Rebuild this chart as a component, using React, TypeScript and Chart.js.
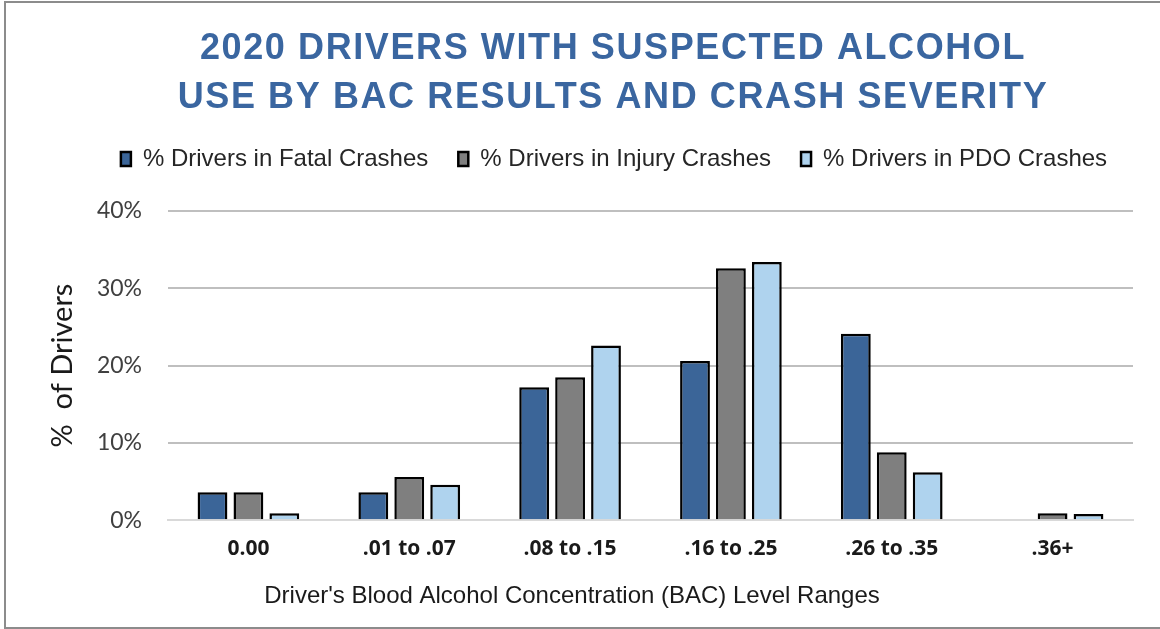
import React, { useEffect, useRef } from "react";
import { Chart, registerables } from "chart.js";

Chart.register(...registerables);

const categories = ["0.00", ".01 to .07", ".08 to .15", ".16 to .25", ".26 to .35", ".36+"];
const fatalValues = [3.6, 3.6, 17.2, 20.6, 24.1, 0];
const injuryValues = [3.6, 5.6, 18.5, 32.6, 8.8, 0.9];
const pdoValues = [0.9, 4.6, 22.6, 33.4, 6.2, 0.8];
const seriesLabels = ["% Drivers in Fatal Crashes", "% Drivers in Injury Crashes", "% Drivers in PDO Crashes"];
const titleLines = ["2020 DRIVERS WITH SUSPECTED ALCOHOL", "USE BY BAC RESULTS AND CRASH SEVERITY"];
const xAxisTitle = "Driver's Blood Alcohol Concentration (BAC) Level Ranges";
const yAxisTitle = "%  of Drivers";
const yTicks = [0, 10, 20, 30, 40];

const layoutPlugin = {
  id: "layoutTweaks",
  beforeInit(chart: any) {
    const lg = chart.legend;
    if (lg) {
      const origFit = lg.fit;
      lg.fit = function () {
        origFit.call(this);
        this.height += 30;
      };
    }
    const tb = chart.titleBlock;
    if (tb) {
      const origDraw = tb.draw;
      tb.draw = function () {
        const ctx = this.ctx;
        ctx.save();
        try {
          (ctx as any).letterSpacing = "1.6px";
        } catch (e) {}
        origDraw.call(this);
        ctx.restore();
      };
    }
  },
  afterLayout(chart: any) {
    const center = (box: any, c: number) => {
      if (!box) return;
      const w = box.right - box.left;
      box.left = c - w / 2;
      box.right = c + w / 2;
    };
    center(chart.titleBlock, 613);
    center(chart.legend, 614);
    const sub = chart.boxes.find((b: any) => b && b.options && b.options.text === xAxisTitle);
    center(sub, 572);
  },
};

export default function App() {
  const ref = useRef<HTMLCanvasElement>(null);
  useEffect(() => {
    if (!ref.current) return;
    const colors = ["#3B6598", "#7F7F7F", "#AFD3EE"];
    const chart = new Chart(ref.current, {
      type: "bar",
      data: {
        labels: categories,
        datasets: [fatalValues, injuryValues, pdoValues].map((d, i) => ({
          label: seriesLabels[i],
          data: d,
          backgroundColor: colors[i],
          borderColor: "#000000",
          borderWidth: 2.5,
          categoryPercentage: 0.67,
          barPercentage: 0.83,
        })),
      },
      plugins: [layoutPlugin],
      options: {
        animation: false,
        responsive: false,
        maintainAspectRatio: false,
        layout: { padding: { left: 40, right: 27, top: 0, bottom: 10 } },
        plugins: {
          title: {
            display: true,
            text: titleLines,
            color: "#3A66A0",
            font: { family: "Liberation Sans, Arial, sans-serif", size: 36, weight: "bold", lineHeight: 1.36 },
            padding: { top: 25, bottom: -6 },
          },
          subtitle: {
            display: true,
            position: "bottom",
            text: xAxisTitle,
            color: "#1a1a1a",
            font: { family: "Liberation Sans, Arial, sans-serif", size: 24, weight: "normal", lineHeight: 1.2 },
            padding: { top: 0, bottom: 8 },
          },
          legend: {
            display: true,
            position: "top",
            labels: {
              boxWidth: 10,
              boxHeight: 14,
              color: "#262626",
              font: { family: "Liberation Sans, Arial, sans-serif", size: 24 },
              padding: 30,
            },
          },
          tooltip: { enabled: false },
        },
        scales: {
          x: {
            grid: { display: false, drawTicks: false },
            border: { display: true, color: "#D9D9D9", width: 2 },
            afterFit: (scale: any) => {
              scale.height = 62;
            },
            ticks: {
              color: "#1a1a1a",
              font: { family: "Open Sans, Lato, sans-serif", size: 21, weight: "bold" },
              padding: 16,
            },
          },
          y: {
            min: 0,
            max: 40,
            afterBuildTicks: (scale: any) => {
              scale.ticks = yTicks.map((v) => ({ value: v }));
            },
            afterFit: (scale: any) => {
              scale.width = 128;
            },
            grid: {
              color: (ctx: any) => (ctx.tick && ctx.tick.value === 0 ? "#D9D9D9" : "#BFBFBF"),
              lineWidth: 2,
              drawTicks: false,
            },
            border: { display: false },
            ticks: {
              color: "#404040",
              font: { family: "Lato, Open Sans, sans-serif", size: 23 },
              padding: 26,
              callback: (v: any) => v + "%",
            },
            title: {
              display: true,
              text: yAxisTitle,
              color: "#1a1a1a",
              font: { family: "Lato, Open Sans, sans-serif", size: 29 },
              padding: { top: 5, bottom: 0 },
            },
          },
        },
      },
    });
    return () => chart.destroy();
  }, []);
  return (
    <div style={{ position: "fixed", left: 0, top: 0, width: 1160, height: 629, background: "#fff" }}>
      <canvas ref={ref} width={1160} height={629} style={{ position: "absolute", left: 0, top: 0 }} />
      <div
        style={{
          position: "absolute",
          left: 4,
          top: 1,
          width: 1170,
          height: 624,
          borderLeft: "2px solid #8C8C8C",
          borderTop: "2px solid #8C8C8C",
          borderBottom: "2px solid #8C8C8C",
          pointerEvents: "none",
        }}
      />
    </div>
  );
}
